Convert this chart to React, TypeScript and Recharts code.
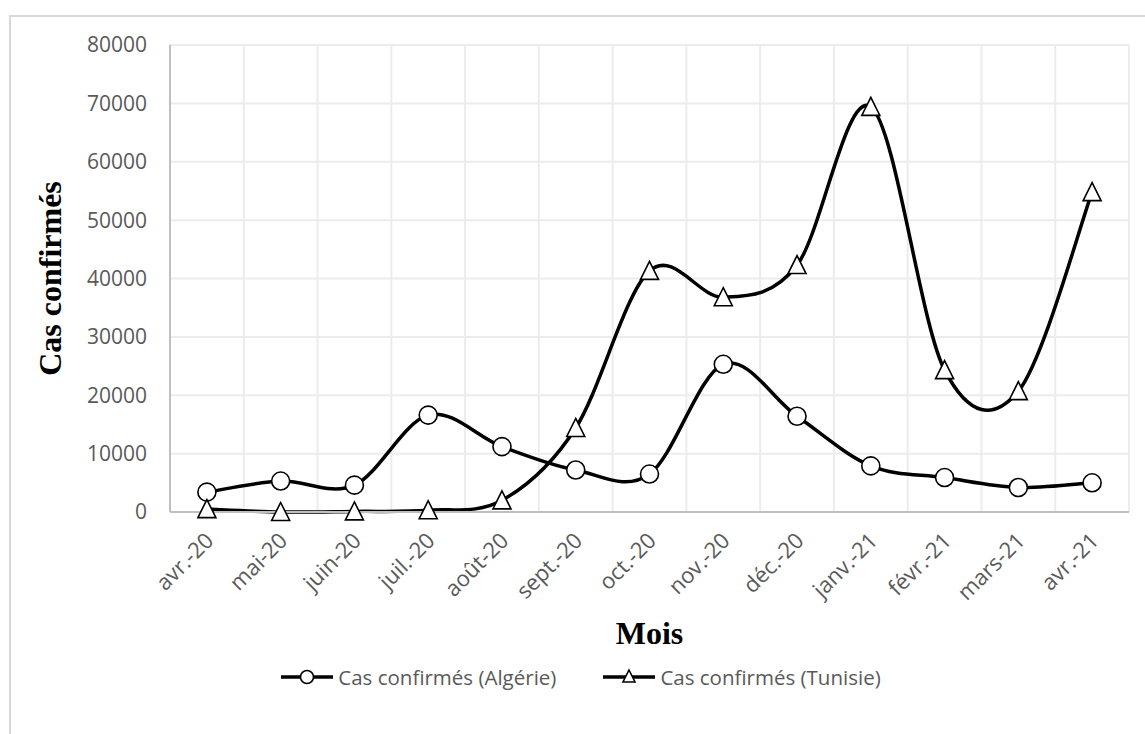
import React from 'react';
import { LineChart, Line, XAxis, YAxis, CartesianGrid, Legend, Label } from 'recharts';

// Monthly confirmed COVID-19 cases
const months = [
  'avr.-20', 'mai-20', 'juin-20', 'juil.-20', 'août-20', 'sept.-20', 'oct.-20',
  'nov.-20', 'déc.-20', 'janv.-21', 'févr.-21', 'mars-21', 'avr.-21',
];
const algerie = [3400, 5300, 4600, 16600, 11200, 7200, 6500, 25300, 16400, 7900, 5900, 4200, 5000];
const tunisie = [500, 0, 100, 300, 2000, 14400, 41300, 36800, 42300, 69400, 24300, 20700, 54800];
const yTicks = [0, 10000, 20000, 30000, 40000, 50000, 60000, 70000, 80000];

const seriesAlgerie = 'Cas confirmés (Algérie)';
const seriesTunisie = 'Cas confirmés (Tunisie)';

const data = months.map((m, i) => ({ month: m, alg: algerie[i], tun: tunisie[i] }));

const FONT = "'Open Sans', 'Noto Sans', sans-serif";
const SERIF = "'Liberation Serif', 'DejaVu Serif', serif";
const GRAY = '#595959';

// Smoothed spline (uniform Catmull-Rom through every point, Bezier segments)
function smoothCurve(context: any) {
  let pts: number[][] = [];
  return {
    areaStart() {},
    areaEnd() {},
    lineStart() {
      pts = [];
    },
    point(x: number, y: number) {
      pts.push([+x, +y]);
    },
    lineEnd() {
      const n = pts.length;
      if (!n) return;
      context.moveTo(pts[0][0], pts[0][1]);
      for (let i = 0; i < n - 1; i++) {
        const p0 = pts[i - 1] || pts[i];
        const p1 = pts[i];
        const p2 = pts[i + 1];
        const p3 = pts[i + 2] || pts[i + 1];
        context.bezierCurveTo(
          p1[0] + (p2[0] - p0[0]) / 6,
          p1[1] + (p2[1] - p0[1]) / 6,
          p2[0] - (p3[0] - p1[0]) / 6,
          p2[1] - (p3[1] - p1[1]) / 6,
          p2[0],
          p2[1]
        );
      }
    },
  };
}

const CircleDot = (props: any) => {
  const { cx, cy, index } = props;
  if (cx == null || cy == null) return <g key={`c-${index}`} />;
  return <circle key={`c-${index}`} cx={cx} cy={cy} r={9} fill="#fff" stroke="#000" strokeWidth={1.6} />;
};

const TriangleDot = (props: any) => {
  const { cx, cy, index } = props;
  if (cx == null || cy == null) return <g key={`t-${index}`} />;
  const w = 9;
  const h = 17;
  const pts = `${cx},${cy - h / 2 - 1} ${cx + w},${cy + h / 2} ${cx - w},${cy + h / 2}`;
  return <polygon key={`t-${index}`} points={pts} fill="#fff" stroke="#000" strokeWidth={1.6} strokeLinejoin="miter" />;
};

const MonthTick = (props: any) => {
  const { x, y, payload } = props;
  const ax = x + 8;
  const ay = y + 22;
  return (
    <text
      x={ax}
      y={ay}
      transform={`rotate(-45, ${ax}, ${ay})`}
      textAnchor="end"
      fill={GRAY}
      fontSize={22}
      fontFamily={FONT}
    >
      {payload.value}
    </text>
  );
};

const LegendIcon = ({ kind }: { kind: 'circle' | 'triangle' }) => (
  <svg width={54} height={22} style={{ display: 'block' }}>
    <line x1={1} y1={11} x2={53} y2={11} stroke="#000" strokeWidth={3.5} />
    {kind === 'circle' ? (
      <circle cx={27} cy={11} r={6.5} fill="#fff" stroke="#000" strokeWidth={1.6} />
    ) : (
      <polygon points="27,4 33,16 21,16" fill="#fff" stroke="#000" strokeWidth={1.6} />
    )}
  </svg>
);

const LegendContent = () => (
  <div
    style={{
      height: 30,
      display: 'flex',
      justifyContent: 'center',
      alignItems: 'center',
      paddingLeft: 32,
      fontFamily: FONT,
      fontSize: 20.5,
      color: GRAY,
    }}
  >
    <div style={{ display: 'flex', alignItems: 'center', marginRight: 46 }}>
      <LegendIcon kind="circle" />
      <span style={{ marginLeft: 4 }}>{seriesAlgerie}</span>
    </div>
    <div style={{ display: 'flex', alignItems: 'center' }}>
      <LegendIcon kind="triangle" />
      <span style={{ marginLeft: 4 }}>{seriesTunisie}</span>
    </div>
  </div>
);

export default function App() {
  return (
    <div
      style={{
        position: 'absolute',
        left: 0,
        top: 0,
        width: 1145,
        height: 734,
        background: '#fff',
        overflow: 'hidden',
      }}
    >
      <div
        style={{
          position: 'absolute',
          left: 9,
          top: 15,
          right: 0,
          bottom: 0,
          borderTop: '2px solid #d9d9d9',
          borderLeft: '2px solid #d9d9d9',
        }}
      />
      <div style={{ position: 'absolute', left: 0, top: 0 }}>
        <LineChart
          width={1145}
          height={734}
          data={data}
          margin={{ top: 45, right: 16, left: 0, bottom: 42 }}
        >
          <CartesianGrid
            stroke="#ececec"
            strokeWidth={2}
            verticalCoordinatesGenerator={({ offset }: any) =>
              Array.from({ length: months.length + 1 }, (_, i) => offset.left + (i * offset.width) / months.length)
            }
          />
          <XAxis
            dataKey="month"
            scale="band"
            interval={0}
            tickLine={false}
            axisLine={{ stroke: '#bfbfbf', strokeWidth: 2 }}
            tick={<MonthTick />}
            height={150}
          >
            <Label
              content={({ viewBox }: any) => (
                <text
                  x={viewBox.x + viewBox.width / 2}
                  y={viewBox.y + 132}
                  textAnchor="middle"
                  fontFamily={SERIF}
                  fontWeight="bold"
                  fontSize={32}
                  fill="#000"
                >
                  Mois
                </text>
              )}
            />
          </XAxis>
          <YAxis
            width={170}
            domain={[0, 80000]}
            ticks={yTicks}
            interval={0}
            tickLine={false}
            tickSize={0}
            tickMargin={23}
            axisLine={{ stroke: '#bfbfbf', strokeWidth: 2 }}
            tick={{ fill: GRAY, fontSize: 21, fontFamily: FONT }}
          >
            <Label
              content={({ viewBox }: any) => {
                const cx = viewBox.x + 50;
                const cy = viewBox.y + viewBox.height / 2;
                return (
                  <text
                    x={cx}
                    y={cy}
                    transform={`rotate(-90, ${cx}, ${cy})`}
                    textAnchor="middle"
                    dominantBaseline="central"
                    fontFamily={SERIF}
                    fontWeight="bold"
                    fontSize={32}
                    fill="#000"
                  >
                    Cas confirmés
                  </text>
                );
              }}
            />
          </YAxis>
          <Legend verticalAlign="bottom" height={30} content={<LegendContent />} />
          <Line
            dataKey="alg"
            name={seriesAlgerie}
            type={smoothCurve as any}
            stroke="#000"
            strokeWidth={3.5}
            dot={CircleDot}
            activeDot={false}
            isAnimationActive={false}
          />
          <Line
            dataKey="tun"
            name={seriesTunisie}
            type={smoothCurve as any}
            stroke="#000"
            strokeWidth={3.5}
            dot={TriangleDot}
            activeDot={false}
            isAnimationActive={false}
          />
        </LineChart>
      </div>
    </div>
  );
}
